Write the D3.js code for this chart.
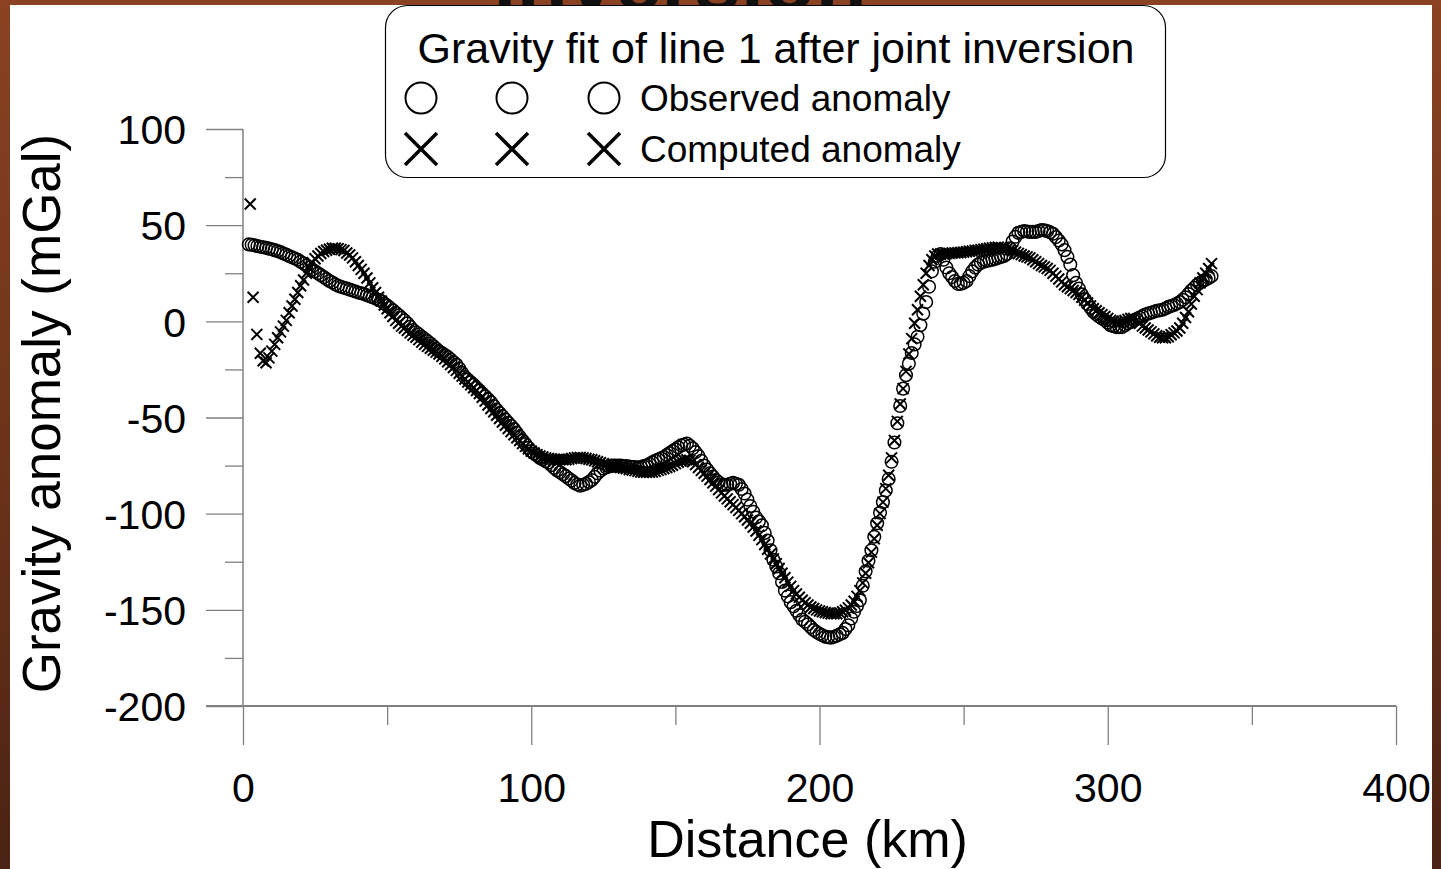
<!DOCTYPE html>
<html>
<head>
<meta charset="utf-8">
<script src="https://cdn.jsdelivr.net/npm/d3@7"></script>
<style>
  html, body { margin: 0; padding: 0; background: #6b3219; }
  svg { display: block; font-family: "Liberation Sans", Arial, sans-serif; }
</style>
</head>
<body>
<svg id="chart" width="1441" height="869"></svg>
<script>
// gravity profile, line 1 (mGal)
var xTicksMajor = [0, 100, 200, 300, 400];
var xTicksMinor = [50, 150, 250, 350];
var yTicksMajor = [100, 50, 0, -50, -100, -150, -200];
var yTicksMinor = [75, 25, -25, -75, -125, -175];

var legendTitle = "Gravity fit of line 1 after joint inversion";
var seriesNames = ["Observed anomaly", "Computed anomaly"];

// observed: one station per km, starting at 2 km
var obsStartKm = 2;
var observedMgal = [
  40,39.8,39.5,39.2,38.8,38.5,38.2,37.8,37.5,37,
  36.5,36,35.3,34.7,34,33.3,32.7,32,31,30,
  29,28,27,26,25,24,23,22,21,20.2,
  19.3,18.5,18,17.5,17,16.5,16,15.5,15,14.6,
  14.2,13.6,13,12.5,11.8,11.2,10.5,9.3,8.2,7,
  5.8,4.5,3.2,1.8,0.5,-1,-2.8,-4.5,-5.7,-6.8,
  -8,-9.2,-10.3,-11.5,-12.8,-14.2,-15.5,-16.5,-17.5,-18.5,
  -19.8,-21.2,-22.5,-24.5,-26.8,-29,-30.3,-31.7,-33,-34.5,
  -36,-37.5,-39,-40.5,-42,-44,-46,-47.7,-49.3,-51,
  -52.7,-54.3,-56,-58,-60,-62,-63.8,-65.7,-67.5,-68.7,
  -69.8,-71,-71.8,-72.7,-73.5,-74.8,-76.2,-77.5,-78.5,-79.5,
  -80.5,-81.7,-82.8,-84,-84.8,-85.5,-85,-84.5,-83.5,-82.5,
  -80.8,-79,-77.7,-76.5,-76,-75.5,-75,-75,-75,-75,
  -75.2,-75.3,-75.5,-75.7,-75.8,-76,-75.7,-75.3,-75,-74.2,
  -73.3,-72.5,-71.8,-71.2,-70.5,-69.5,-68.5,-67.5,-66.5,-65.5,
  -64.5,-64,-63.5,-64.7,-66,-68,-70,-72.5,-75,-77,
  -79,-80.7,-82.5,-83.7,-85,-85,-85,-84.5,-84,-84.5,
  -85,-87.2,-89.5,-92.7,-96,-99,-102,-104,-106,-110,
  -114,-119,-124,-127.5,-131,-135.5,-140,-143,-146,-148.2,
  -150.5,-152.7,-155,-156.2,-157.5,-159,-160.5,-161.5,-162.5,-163.2,
  -164,-164.2,-164.5,-164,-163.5,-162.7,-162,-160,-158,-154.5,
  -151,-148,-145,-137.5,-130,-124.5,-119,-112,-105,-99.5,
  -94,-88,-82,-73,-63,-53,-44,-35,-28,-22,
  -16.5,-12,-8,-2,4,10,18,26,31,34,
  35,32,28,25,23,21,19.5,19.5,20,21,
  23.5,26,28,29.5,30.5,31,31.5,31.7,32,32.5,
  33,33.5,34,35,38,41.5,44,46,46.5,47,
  46.7,46.5,46.5,46.5,47,47.5,47.3,47,46.3,45.5,
  43.8,42,40,37,33.5,29.5,24,20,17,14,
  11.5,9,7,5,3.7,2.5,1.5,0.5,-0.7,-2,
  -2.5,-3,-3,-3,-2,-1,-0.3,0.5,1.2,2,
  2.7,3.5,4,4.5,5,5.5,5.7,6,6.7,7.5,
  8,8.5,9.2,10,11.2,12.5,14.2,16,17.5,19,
  20,21,21.7,22.5,23.5
];

// computed: a few scattered points at the start, then one per km from 8 km
var compLeadKm = [2.5, 3.5, 4.8, 6, 7];
var compLeadMgal = [61, 12.5, -6.8, -16.6, -20.5];
var compStartKm = 8;
var computedMgal = [
  -21.5,-19,-15.5,-12,-8.5,-5.5,-2.5,0.5,4.5,8,
  11.5,15,18.5,21.5,25,28,30.5,32.5,34,35.3,
  36.3,37,37.5,38,38,37.8,37.3,36.8,35.5,34.5,
  33,31,29,27,25,22.5,20,17.5,15,12.5,
  10.5,8.5,6.5,4.5,2.5,0.5,-1,-2.5,-3.5,-4.7,
  -6,-7.2,-8.3,-9.5,-10.8,-12,-13,-14,-15,-16,
  -17,-18.2,-19.5,-21,-22.5,-24,-25.5,-27,-28.5,-30,
  -31.5,-33,-34.5,-36,-37.5,-39.5,-41.5,-43.5,-45.3,-47,
  -48.8,-50.5,-52.3,-54,-55.7,-57.3,-59,-60.5,-62,-63.5,
  -65,-66.3,-67.5,-68.5,-69.3,-70,-70.5,-71,-71.3,-71.5,
  -71.7,-71.8,-72,-72,-72,-71.7,-71.3,-71,-70.8,-70.8,
  -71,-71.3,-71.7,-72,-72.5,-73,-73.5,-74,-74.5,-75,
  -75.3,-75.5,-75.8,-76,-76.3,-76.6,-77,-77.3,-77.6,-78,
  -78.3,-78.5,-78.5,-78.5,-78.3,-78,-77.5,-77,-76.5,-76,
  -75.5,-74.8,-74,-73.3,-72.7,-72.2,-72,-72.2,-73,-74.5,
  -76,-77.5,-79,-80.5,-82.2,-84,-85.7,-87.5,-89.2,-90.8,
  -92.3,-93.8,-95.3,-96.8,-98.3,-100,-101.6,-103.3,-105,-107,
  -109,-111.2,-113.5,-116,-118.5,-121,-123.5,-126,-128.5,-131,
  -133.3,-135.6,-137.8,-140,-141.8,-143.5,-145,-146.3,-147.5,-148.5,
  -149.3,-150,-150.6,-151,-151.4,-151.7,-152,-152,-152,-151.6,
  -151,-150.2,-149,-147.5,-145.5,-143,-140,-136,-131,-125.5,
  -120,-113,-106,-100,-94,-87,-80,-71,-62,-52,
  -43,-35,-26,-17,-9,-1,6,13,19,25,
  29,32,34,35,35,35,35.2,35.3,35.5,35.6,
  35.7,35.8,36,36.2,36.4,36.6,36.8,37,37.2,37.5,
  37.7,38,38.2,38.4,38.5,38.3,38,37.7,37.2,36.7,
  36,35.3,34.7,34,33.5,33,32,31,30,29,
  28.3,27.5,26.5,25,23.5,22,20.5,19,18,17,
  16,15,14,12.5,11,9.5,8,6.5,5.5,4.5,
  3.5,2.5,1.5,0.5,0,-0.5,-0.5,0,0.5,1,
  1.5,1.5,0.5,-1,-2.5,-3.5,-4.5,-5.5,-6.5,-7.5,
  -8.3,-8.5,-8.5,-8,-7,-6,-5,-3.5,-1,2,
  5,9,13,16.5,20,22.5,25,27.5,30
];

function drawChart() {
    var svg = d3.select("#chart"),
        width = +svg.attr("width"),
        height = +svg.attr("height");

    // slide background
    var defs = svg.append("defs");
    var grad = defs.append("linearGradient")
        .attr("id", "bg").attr("x1", 0).attr("y1", 0).attr("x2", 0).attr("y2", 1);
    grad.append("stop").attr("offset", "0%").attr("stop-color", "#8a4222");
    grad.append("stop").attr("offset", "55%").attr("stop-color", "#6a3219");
    grad.append("stop").attr("offset", "100%").attr("stop-color", "#4a2314");
    svg.append("rect").attr("width", width).attr("height", height).attr("fill", "url(#bg)");

    // slide heading, mostly hidden behind the chart panel
    svg.append("text")
        .attr("x", 680).attr("y", 10)
        .attr("text-anchor", "middle")
        .style("font-size", "84px").style("font-weight", "bold")
        .attr("fill", "#111")
        .text("inversion");

    svg.append("rect")
        .attr("x", 10).attr("y", 5)
        .attr("width", 1422).attr("height", height - 5)
        .attr("fill", "#fff");

    var x = d3.scaleLinear().domain([0, 400]).range([243, 1396]);
    var y = d3.scaleLinear().domain([-200, 100]).range([706, 129]);

    var axisColor = "#808080";

    // y axis
    var yMajor = svg.append("g").attr("transform", "translate(" + x(0) + ",0)")
        .call(d3.axisLeft(y).tickValues(yTicksMajor).tickSize(37).tickPadding(20)
            .tickFormat(function(d) { return String(d); }));
    var yMinor = svg.append("g").attr("transform", "translate(" + x(0) + ",0)")
        .call(d3.axisLeft(y).tickValues(yTicksMinor).tickSize(18).tickFormat(""));

    // x axis
    var xMajor = svg.append("g").attr("transform", "translate(0," + y(-200) + ")")
        .call(d3.axisBottom(x).tickValues(xTicksMajor).tickSize(39).tickPadding(28)
            .tickFormat(function(d) { return String(d); }));
    var xMinor = svg.append("g").attr("transform", "translate(0," + y(-200) + ")")
        .call(d3.axisBottom(x).tickValues(xTicksMinor).tickSize(19).tickFormat(""));

    [yMajor, yMinor, xMajor, xMinor].forEach(function(g) {
        g.selectAll(".domain").remove();
        g.selectAll("line").attr("stroke", axisColor).attr("stroke-width", 1.3);
        g.selectAll("text").attr("fill", "#000").style("font-size", "41px")
            .style("font-family", "'Liberation Sans', Arial, sans-serif");
    });
    yMajor.selectAll("text").attr("dy", "0.36em");

    // axis lines
    svg.append("line")
        .attr("x1", x(0)).attr("x2", x(0)).attr("y1", y(100)).attr("y2", y(-200))
        .attr("stroke", axisColor).attr("stroke-width", 1.5);
    svg.append("line")
        .attr("x1", x(0) - 37).attr("x2", x(400)).attr("y1", y(-200)).attr("y2", y(-200))
        .attr("stroke", axisColor).attr("stroke-width", 1.8);

    // axis titles
    svg.append("text")
        .attr("x", (x(0) + x(400)) / 2 - 12).attr("y", 857)
        .attr("text-anchor", "middle")
        .style("font-size", "52px")
        .text("Distance (km)");
    svg.append("text")
        .attr("transform", "translate(60," + ((y(100) + y(-200)) / 2 - 4) + ") rotate(-90)")
        .attr("text-anchor", "middle")
        .style("font-size", "53px")
        .text("Gravity anomaly (mGal)");

    // data
    var observed = observedMgal.map(function(v, i) { return { km: obsStartKm + i, v: v }; });
    var computed = compLeadKm.map(function(k, i) { return { km: k, v: compLeadMgal[i] }; })
        .concat(computedMgal.map(function(v, i) { return { km: compStartKm + i, v: v }; }));

    svg.append("g").selectAll("circle")
        .data(observed)
        .enter().append("circle")
        .attr("cx", function(d) { return x(d.km); })
        .attr("cy", function(d) { return y(d.v); })
        .attr("r", 6.3)
        .attr("fill", "none")
        .attr("stroke", "#000")
        .attr("stroke-width", 1.5);

    var xs = 5.5;
    svg.append("g").selectAll("path")
        .data(computed)
        .enter().append("path")
        .attr("transform", function(d) { return "translate(" + x(d.km) + "," + y(d.v) + ")"; })
        .attr("d", "M" + (-xs) + "," + (-xs) + "L" + xs + "," + xs + "M" + (-xs) + "," + xs + "L" + xs + "," + (-xs))
        .attr("stroke", "#000")
        .attr("stroke-width", 2)
        .attr("fill", "none");

    // legend box
    var lg = svg.append("g");
    lg.append("rect")
        .attr("x", 385.5).attr("y", 5.5).attr("width", 780).attr("height", 172)
        .attr("rx", 22).attr("ry", 22)
        .attr("fill", "#fff").attr("stroke", "#000").attr("stroke-width", 1.2);
    lg.append("text")
        .attr("x", 776).attr("y", 63)
        .attr("text-anchor", "middle")
        .style("font-size", "43px")
        .text(legendTitle);

    var symX = [421, 512, 604];
    lg.selectAll(".lc").data(symX).enter().append("circle")
        .attr("cx", function(d) { return d; }).attr("cy", 98).attr("r", 15.5)
        .attr("fill", "none").attr("stroke", "#000").attr("stroke-width", 2);
    var ls = 16;
    lg.selectAll(".lx").data(symX).enter().append("path")
        .attr("transform", function(d) { return "translate(" + d + ",149)"; })
        .attr("d", "M" + (-ls) + "," + (-ls) + "L" + ls + "," + ls + "M" + (-ls) + "," + ls + "L" + ls + "," + (-ls))
        .attr("stroke", "#000").attr("stroke-width", 3.5).attr("fill", "none");

    lg.selectAll(".lt").data(seriesNames).enter().append("text")
        .attr("x", 640)
        .attr("y", function(d, i) { return 111 + i * 51; })
        .style("font-size", "37px")
        .text(function(d) { return d; });
}

drawChart();
</script>
</body>
</html>
